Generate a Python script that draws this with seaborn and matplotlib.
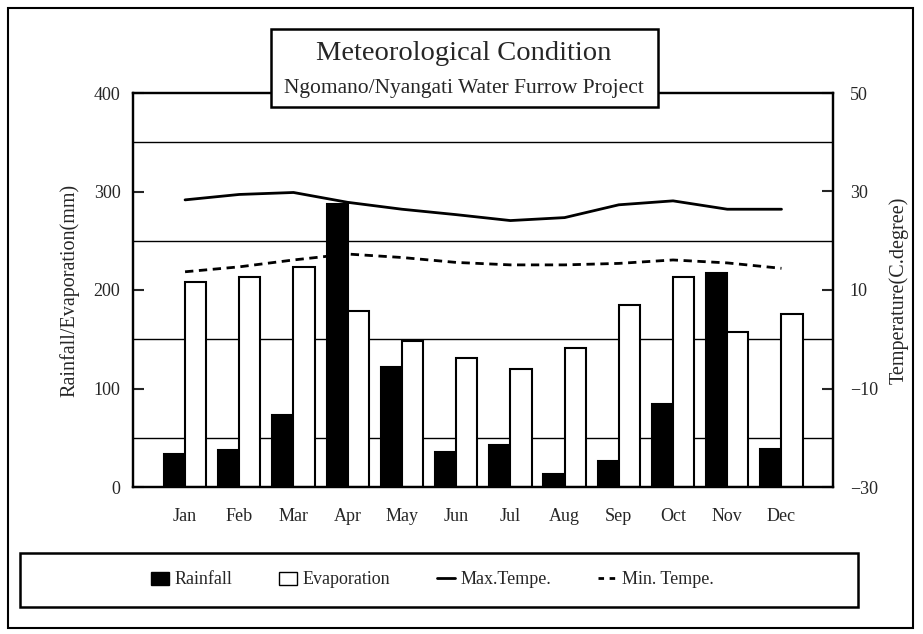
#!/usr/bin/env python3
"""
Meteorological Condition - Ngomano/Nyangati Water Furrow Project
Monthly rainfall / evaporation bars with max / min temperature lines.
"""

import numpy as np
import pandas as pd
import matplotlib
matplotlib.use("Agg")
import matplotlib.pyplot as plt
from matplotlib.patches import Rectangle, Patch
from matplotlib.lines import Line2D
import seaborn as sns

# ============================================
# Data
# ============================================
months = ["Jan", "Feb", "Mar", "Apr", "May", "Jun",
          "Jul", "Aug", "Sep", "Oct", "Nov", "Dec"]
rainfall = [33, 38, 73, 287, 122, 36, 43, 13, 26, 84, 217, 39]
evaporation = [208, 213, 223, 179, 148, 131, 120, 141, 185, 213, 157, 176]
max_temp = [28.3, 29.4, 29.8, 27.8, 26.4, 25.3, 24.1, 24.7, 27.3, 28.1, 26.4, 26.4]
min_temp = [13.7, 14.7, 16.1, 17.3, 16.6, 15.6, 15.1, 15.1, 15.4, 16.1, 15.5, 14.4]

left_ticks = [0, 100, 200, 300, 400]
left_grid = [50, 150, 250, 350]
right_ticks = [-30, -10, 10, 30, 50]

bars = pd.DataFrame({
    "month": months * 2,
    "value": rainfall + evaporation,
    "kind": ["Rainfall"] * 12 + ["Evaporation"] * 12,
})

# ============================================
# Figure layout (pixel based, 923 x 634)
# ============================================
W, H = 923, 634
sns.set_theme(style="white")
plt.rcParams["font.family"] = ["Liberation Serif", "DejaVu Serif"]

fig = plt.figure(figsize=(W / 100, H / 100), dpi=100)


def fx(px):
    return px / W


def fy(py):
    return 1 - py / H


ax = fig.add_axes([fx(133), fy(487), fx(833) - fx(133), fy(93) - fy(487)])

# --- bars ---
sns.barplot(data=bars, x="month", y="value", hue="kind", ax=ax,
            palette={"Rainfall": "black", "Evaporation": "white"},
            edgecolor="black", linewidth=1.5, width=0.78, gap=0,
            legend=False, saturation=1)

ax.set_ylim(0, 400)
ax.set_xlim(-0.96, 11.95)
ax.set_yticks(left_ticks)
ax.set_yticks(left_grid, minor=True)
ax.grid(False)
ax.yaxis.grid(True, which="minor", color="black", linewidth=1.0)
ax.set_axisbelow(True)
ax.tick_params(axis="y", which="major", direction="in", length=8, width=1.5,
               labelsize=13, pad=9)
ax.tick_params(axis="y", which="minor", length=0)
ax.tick_params(axis="x", length=0, labelsize=13, pad=15)
ax.set_xlabel("")
ax.set_ylabel("Rainfall/Evaporation(mm)", fontsize=14.5, labelpad=10)
for s in ax.spines.values():
    s.set_color("black")
    s.set_linewidth(1.6)

# --- temperature lines on twin axis ---
ax2 = ax.twinx()
x = np.arange(len(months))
sns.lineplot(x=x, y=max_temp, ax=ax2, color="black", linewidth=2.0)
sns.lineplot(x=x, y=min_temp, ax=ax2, color="black", linewidth=2.0,
             linestyle=(0, (3, 2)))
ax2.set_ylim(-30, 50)
ax2.set_xlim(-0.96, 11.95)
ax2.set_yticks(right_ticks)
ax2.tick_params(axis="y", direction="in", length=8, width=1.5,
                labelsize=13, pad=12)
ax2.set_ylabel("Temperature(C.degree)", fontsize=14.5, labelpad=8)
ax2.grid(False)
for s in ax2.spines.values():
    s.set_color("black")
    s.set_linewidth(1.6)

# ============================================
# Title box, legend box, outer frame
# ============================================
fig.add_artist(Rectangle((fx(271), fy(107)), fx(658) - fx(271), fy(29) - fy(107),
                         transform=fig.transFigure, facecolor="white",
                         edgecolor="black", linewidth=1.8, zorder=5))
fig.text(fx(464), fy(54), "Meteorological Condition", ha="center", va="center",
         fontsize=20.5, zorder=6)
fig.text(fx(464), fy(88), "Ngomano/Nyangati Water Furrow Project",
         ha="center", va="center", fontsize=15.5, zorder=6)

fig.add_artist(Rectangle((fx(20), fy(607)), fx(858) - fx(20), fy(553) - fy(607),
                         transform=fig.transFigure, facecolor="white",
                         edgecolor="black", linewidth=1.8, zorder=1))
handles = [
    Patch(facecolor="black", edgecolor="black", label="Rainfall"),
    Patch(facecolor="white", edgecolor="black", label="Evaporation"),
    Line2D([0], [0], color="black", linewidth=2.0, label="Max.Tempe."),
    Line2D([0], [0], color="black", linewidth=2.0, linestyle=(0, (2, 2)),
           label="Min. Tempe."),
]
leg = fig.legend(handles=handles, loc="center", ncol=4, frameon=False,
                 bbox_to_anchor=(fx(432), fy(580)), fontsize=13,
                 handlelength=1.0, handletextpad=0.3, columnspacing=2.6)
leg.set_zorder(6)

fig.add_artist(Rectangle((fx(8), fy(628)), fx(913) - fx(8), fy(8) - fy(628),
                         transform=fig.transFigure, facecolor="none",
                         edgecolor="black", linewidth=1.5, zorder=0))

plt.savefig("out.png", dpi=100)
plt.close()
